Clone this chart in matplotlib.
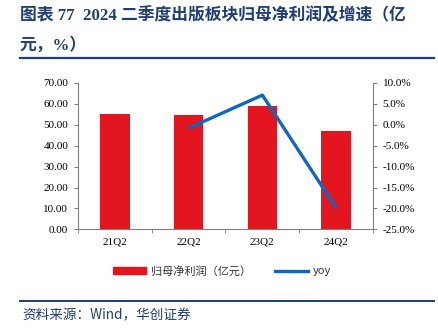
import matplotlib
matplotlib.use("Agg")
import matplotlib.pyplot as plt
from matplotlib.lines import Line2D
from matplotlib.patches import Rectangle
import numpy as np

# Data
quarters = ["21Q2", "22Q2", "23Q2", "24Q2"]
net_profit = [55.4, 54.9, 58.9, 47.0]          # 归母净利润（亿元）
yoy_quarters = ["22Q2", "23Q2", "24Q2"]
yoy = [-0.8, 7.1, -19.9]                         # 同比增速（%）
left_ticks = [0, 10, 20, 30, 40, 50, 60, 70]
right_ticks = [10, 5, 0, -5, -10, -15, -20, -25]

RED = "#E3161F"
BLUE = "#1166C0"
NAVY = "#1F3F73"
SPINE = "#7F7F7F"
CJK = ["Noto Sans CJK SC", "DejaVu Sans"]
SERIF = ["Liberation Serif", "Noto Sans CJK SC"]

fig = plt.figure(figsize=(4.38, 3.30), dpi=100)
W, H = 438, 330

ax = fig.add_axes([78 / W, 1 - 229.3 / H, (373 - 78) / W, (229.3 - 83) / H])
x = np.arange(len(quarters))
ax.bar(x, net_profit, width=0.4, color=RED, zorder=2)
ax.set_xlim(-0.5, len(quarters) - 0.5)
ax.set_ylim(0, 70)
ax.set_yticks(left_ticks)
ax.set_yticklabels([f"{v:.2f}" for v in left_ticks], fontfamily=SERIF, fontsize=8)
ax.set_xticks(x)
ax.set_xticklabels(quarters, fontfamily=SERIF, fontsize=8)
ax.tick_params(axis="x", which="major", length=0, pad=6)
ax.set_xticks(np.arange(-0.5, len(quarters)), minor=True)
ax.tick_params(axis="x", which="minor", length=3, color=SPINE, direction="out")
ax.tick_params(axis="y", length=3, color=SPINE, direction="out", pad=4)
for s in ["top", "right"]:
    ax.spines[s].set_visible(False)
for s in ["left", "bottom"]:
    ax.spines[s].set_color(SPINE)

ax2 = ax.twinx()
xi = [quarters.index(q) for q in yoy_quarters]
ax2.plot(xi, yoy, color=BLUE, linewidth=2.4, solid_capstyle="butt", zorder=3)
ax2.set_ylim(-25, 10)
ax2.set_yticks(right_ticks)
ax2.set_yticklabels([f"{v:.1f}%" for v in right_ticks], fontfamily=SERIF, fontsize=8)
ax2.tick_params(axis="y", length=3, color=SPINE, direction="out", pad=4)
for s in ["top", "left", "bottom"]:
    ax2.spines[s].set_visible(False)
ax2.spines["right"].set_color(SPINE)

# Legend
handles = [Rectangle((0, 0), 1, 1, color=RED), Line2D([], [], color=BLUE, linewidth=2.4)]
leg = fig.legend(handles, ["归母净利润（亿元）", "yoy"], loc="center",
                 bbox_to_anchor=(222 / W, 1 - 271 / H), ncol=2, frameon=False,
                 prop={"family": CJK, "size": 8}, handlelength=3.0,
                 handleheight=0.5, columnspacing=2.2, handletextpad=0.4)
for t in leg.get_texts():
    t.set_color("#333333")

# Title
fig.text(20 / W, 1 - 16 / H, "图表 77  2024 二季度出版板块归母净利润及增速（亿",
         fontfamily=SERIF, fontsize=12.1, fontweight="bold", color=NAVY, va="center")
fig.text(20 / W, 1 - 45 / H, "元，%）",
         fontfamily=SERIF, fontsize=12.1, fontweight="bold", color=NAVY, va="center")
fig.add_artist(Line2D([20 / W, 434 / W], [1 - 58 / H, 1 - 58 / H], color=NAVY, linewidth=1.6))
fig.add_artist(Line2D([20 / W, 434 / W], [1 - 301 / H, 1 - 301 / H], color=NAVY, linewidth=1.4))
fig.text(22 / W, 1 - 315 / H, "资料来源：Wind，华创证券", fontfamily=CJK, fontsize=9.8,
         style="italic", color=NAVY, va="center")

fig.savefig("out.png", dpi=100)
